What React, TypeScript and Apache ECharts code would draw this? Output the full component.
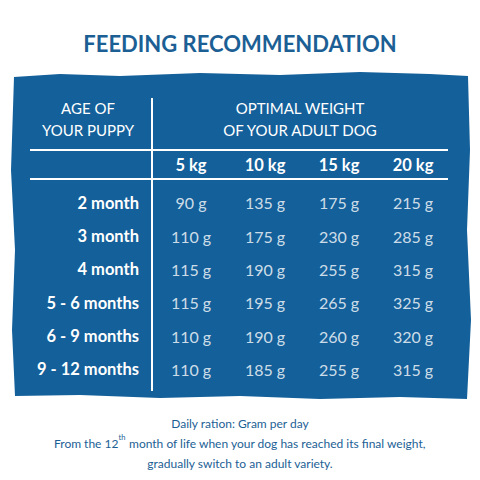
import React, { useEffect, useRef } from "react";
import * as echarts from "echarts";

const weights = ["5 kg", "10 kg", "15 kg", "20 kg"];
const ages = ["2 month", "3 month", "4 month", "5 - 6 months", "6 - 9 months", "9 - 12 months"];
const grams5 = [90, 110, 115, 115, 110, 110];
const grams10 = [135, 175, 190, 195, 190, 185];
const grams15 = [175, 230, 255, 265, 260, 255];
const grams20 = [215, 285, 315, 325, 320, 315];
const columns = [grams5, grams10, grams15, grams20];

const FONT = "Lato, 'Open Sans', sans-serif";
const BLUE = "#14609a";
const TEXTBLUE = "#1c5f95";

export default function App() {
  const ref = useRef<HTMLDivElement>(null);
  useEffect(() => {
    if (!ref.current) return;
    document.body.style.margin = "0";
    const chart = echarts.init(ref.current, null, { renderer: "svg" });
    const data: number[][] = [];
    columns.forEach((col, xi) => col.forEach((v, yi) => data.push([xi, yi, v])));
    chart.setOption({
      animation: false,
      backgroundColor: "#ffffff",
      textStyle: { fontFamily: FONT },
      title: {
        text: "FEEDING RECOMMENDATION",
        left: "center",
        top: 27,
        textStyle: { color: TEXTBLUE, fontSize: 22, fontWeight: "bold", fontFamily: FONT },
      },
      grid: { left: 154, right: 30, top: 186, height: 200, containLabel: false },
      xAxis: {
        type: "category",
        data: weights,
        position: "top",
        axisLine: { show: false },
        axisTick: { show: false },
        axisLabel: { color: "#ffffff", fontSize: 16.5, fontWeight: "bold", margin: 13, fontFamily: FONT },
      },
      yAxis: {
        type: "category",
        data: ages,
        inverse: true,
        axisLine: { show: false },
        axisTick: { show: false },
        axisLabel: { color: "#ffffff", fontSize: 16.5, fontWeight: "bold", margin: 15, fontFamily: FONT },
      },
      graphic: [
        {
          type: "polygon",
          z: -10,
          shape: {
            points: [
              [14, 77], [60, 74], [120, 76], [200, 73], [280, 75], [360, 72], [430, 74], [468, 76],
              [470, 150], [467, 230], [471, 320], [467, 399], [400, 397], [320, 399], [240, 396],
              [160, 398], [80, 395], [15, 396], [12, 330], [15, 250], [11, 170], [14, 77],
            ],
          },
          style: { fill: BLUE },
        },
        { type: "line", shape: { x1: 152, y1: 98, x2: 152, y2: 391 }, style: { stroke: "#ffffff", lineWidth: 2 } },
        { type: "line", shape: { x1: 30, y1: 150, x2: 448, y2: 150 }, style: { stroke: "#ffffff", lineWidth: 2 } },
        { type: "line", shape: { x1: 30, y1: 179, x2: 448, y2: 179 }, style: { stroke: "#ffffff", lineWidth: 2 } },
        {
          type: "text",
          x: 88,
          y: 119,
          style: {
            text: "AGE OF\nYOUR PUPPY",
            fill: "#ffffff",
            font: `15px ${FONT}`,
            align: "center",
            verticalAlign: "middle",
            lineHeight: 22,
          },
        },
        {
          type: "text",
          x: 300,
          y: 119,
          style: {
            text: "OPTIMAL WEIGHT\nOF YOUR ADULT DOG",
            fill: "#ffffff",
            font: `15px ${FONT}`,
            align: "center",
            verticalAlign: "middle",
            lineHeight: 22,
          },
        },
        {
          type: "text",
          x: 240,
          y: 443,
          style: {
            text: "{a|Daily ration: Gram per day}\n{a|From the 12}{s|th}{a| month of life when your dog has reached its final weight,}\n{a|gradually switch to an adult variety.}",
            align: "center",
            verticalAlign: "middle",
            rich: {
              a: { fill: TEXTBLUE, fontSize: 12, fontFamily: FONT, lineHeight: 20 },
              s: { fill: TEXTBLUE, fontSize: 7.5, fontFamily: FONT, lineHeight: 20, verticalAlign: "top", padding: [0, 0, 4, 0] },
            },
          },
        },
      ],
      series: [
        {
          type: "scatter",
          data,
          symbolSize: 1,
          itemStyle: { color: "rgba(0,0,0,0)" },
          label: {
            show: true,
            position: "inside",
            formatter: (p: any) => `${p.value[2]} g`,
            color: "#ffffff",
            fontSize: 16,
            fontFamily: FONT,
          },
        },
      ],
    });
    return () => chart.dispose();
  }, []);
  return <div ref={ref} style={{ width: 480, height: 480 }} />;
}
